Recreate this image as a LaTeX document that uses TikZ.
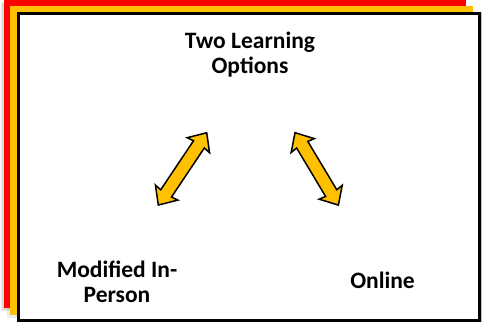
\documentclass[tikz,border=0pt]{standalone}
\usepackage{fontspec}
\setmainfont{Carlito}
\begin{document}
\begin{tikzpicture}[x=1bp,y=1bp,
  label text/.style={font=\fontsize{23.5bp}{25bp}\selectfont\bfseries, align=center, inner sep=0pt},
  arrow body/.style={draw=black, line width=1.5bp, fill=gold, line join=miter},
  sheet shadow/.style={fill=black, opacity=0.08}]
\definecolor{gold}{HTML}{FFC000}
\definecolor{sheetred}{HTML}{FF0000}
\useasboundingbox (0,0) rectangle (482,324);
% soft shadows behind the stacked sheets
\fill[sheet shadow] (1,13) rectangle (463,321);
\fill[sheet shadow] (2,14) rectangle (464,322);
\fill[sheet shadow] (7,6) rectangle (470,315);
% stacked sheets: red, then gold, then the white card
\fill[sheetred] (4,16) rectangle (466,324);
\fill[gold] (10,9) rectangle (473,318);
\fill[black, opacity=0.25] (16.5,2) rectangle (482,312);
\draw[line width=3bp, fill=white] (18.5,3.5) rectangle (479.5,310.5);
% labels (base anchor sits on the last line's baseline)
\node[label text, anchor=base] (title) at (250,250.7) {Two Learning\\Options};
\node[label text, anchor=base] (inperson) at (117,21.3) {Modified In-\\Person};
\node[label text, anchor=base] (online) at (382.5,35.7) {Online};
% double-headed arrows
\begin{scope}[shift={(182.5,155.1)}, rotate=56.2]
  \draw[arrow body] (-43.5,0) -- (-28.5,13.5) -- (-29.5,6.5) -- (29.5,6.5) -- (28.5,13.5)
    -- (43.5,0) -- (28.5,-13.5) -- (29.5,-6.5) -- (-29.5,-6.5) -- (-28.5,-13.5) -- cycle;
\end{scope}
\begin{scope}[shift={(316.7,155.1)}, rotate=-59.1]
  \draw[arrow body] (-42.2,0) -- (-27.2,13.5) -- (-28.2,6.5) -- (28.2,6.5) -- (27.2,13.5)
    -- (42.2,0) -- (27.2,-13.5) -- (28.2,-6.5) -- (-28.2,-6.5) -- (-27.2,-13.5) -- cycle;
\end{scope}
\end{tikzpicture}
\end{document}
